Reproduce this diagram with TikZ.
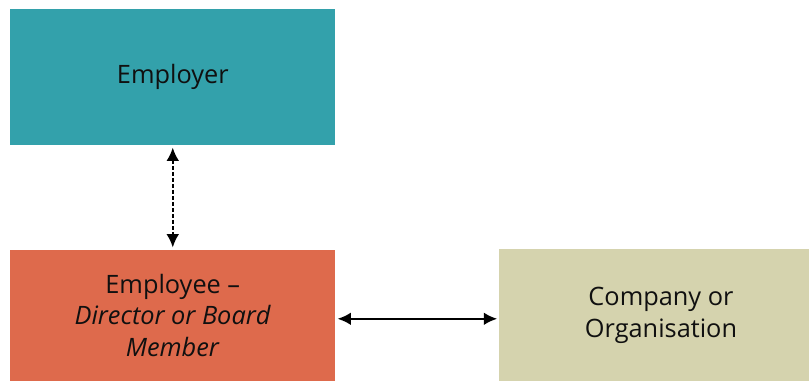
\documentclass[tikz,border=0pt]{standalone}
\usepackage{fontspec}
\setmainfont{Open Sans}
\usetikzlibrary{positioning, arrows.meta}
\definecolor{myteal}{HTML}{33A1AB}
\definecolor{myorange}{HTML}{DE6A4C}
\definecolor{mykhaki}{HTML}{D5D3AE}
\definecolor{mytext}{HTML}{101010}

\begin{document}
\begin{tikzpicture}[
  box/.style={rectangle, inner sep=0pt, align=center, text=mytext,
    font=\fontsize{19pt}{24.5pt}\selectfont},
  arr/.style={{Latex[length=10pt,width=9.5pt]}-{Latex[length=10pt,width=9.5pt]}, line width=1.6pt, black}
]
\useasboundingbox (0,0) rectangle (606.75pt,-285.75pt);
\node[box, fill=myteal, minimum width=243.75pt, minimum height=102pt, anchor=north west]
  (employer) at (7.5pt,-6.75pt) {\raisebox{-4pt}{Employer}};
\node[box, fill=myorange, minimum width=243.75pt, minimum height=99pt,
  below=78pt of employer.south west, anchor=north west]
  (employee) {\raisebox{-1.5pt}{Employee --}\\\textit{Director or Board}\\\textit{Member}};
\node[box, fill=mykhaki, minimum width=233.25pt, minimum height=99.75pt,
  right=122.25pt of employee.south east, anchor=south west]
  (company) {\hspace*{10pt}Company or\\\hspace*{10pt}Organisation};

\draw[arr, dash pattern=on 3pt off 1.5pt] ([yshift=-1.5pt]employer.south) -- ([yshift=1.5pt]employee.north);
\draw[arr] ([xshift=1.5pt,yshift=-2.25pt]employee.east) -- ([xshift=-1pt,yshift=-2.25pt]employee.east -| company.west);
\end{tikzpicture}
\end{document}
